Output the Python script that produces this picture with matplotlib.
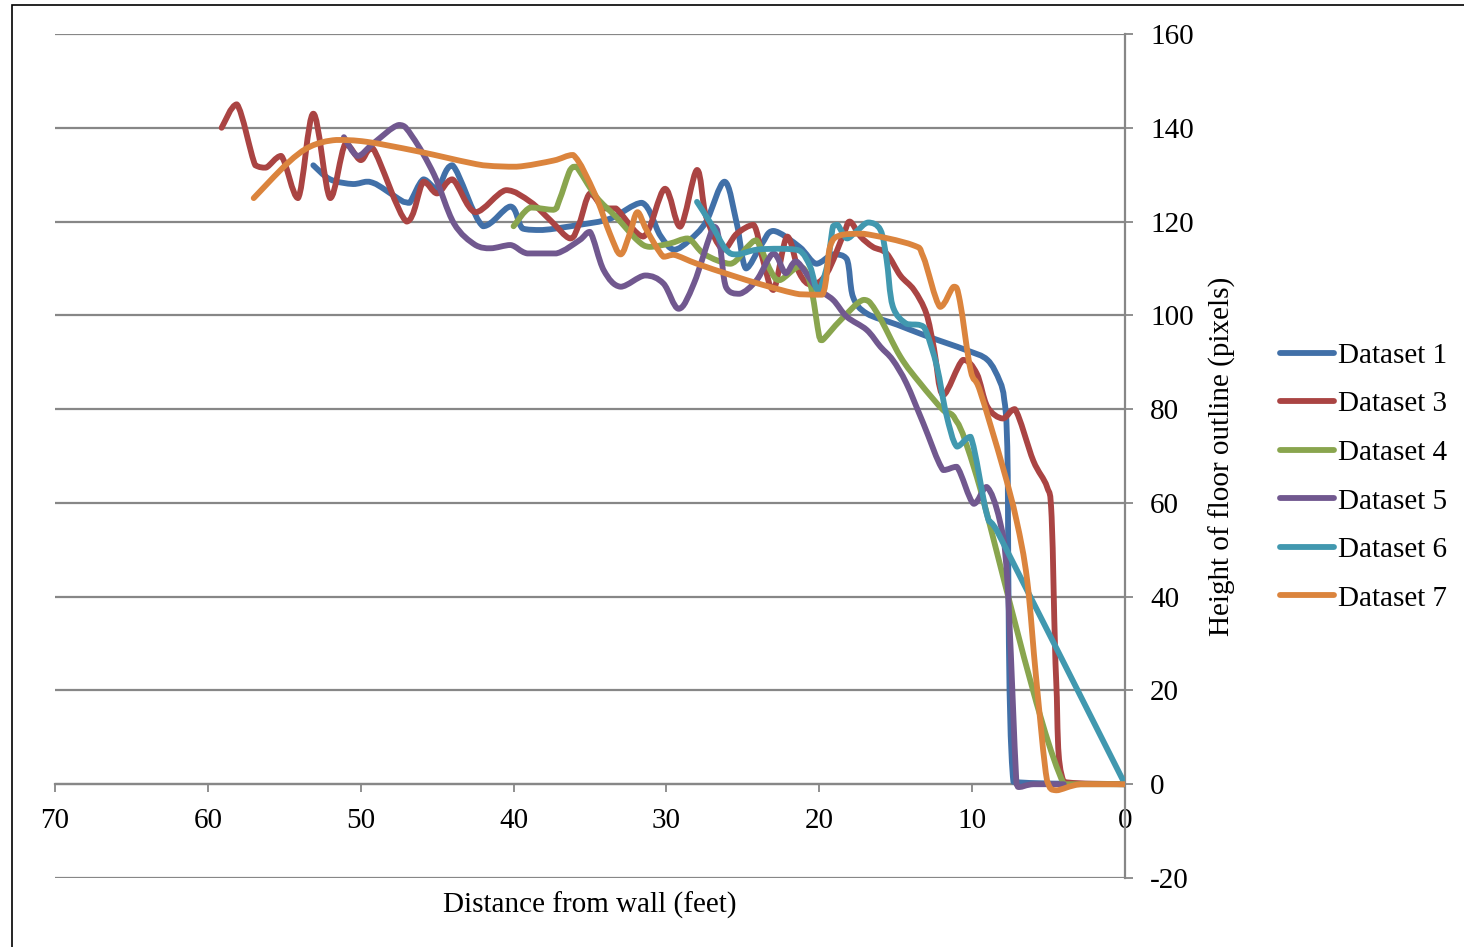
import matplotlib
matplotlib.use('Agg')
import matplotlib.pyplot as plt
import numpy as np
from matplotlib.lines import Line2D
from matplotlib.patches import PathPatch, Rectangle
from matplotlib.path import Path

plt.rcParams['font.family'] = ['Liberation Serif', 'DejaVu Serif']
plt.rcParams['axes.unicode_minus'] = False

# Values (distance from wall in feet, height in pixels)
ds1_x = [53.1, 52.0, 50.5, 49.6, 49.0, 47.2, 46.8, 45.9, 45.0, 44.0, 42.0, 40.2, 39.4, 38.1,
         35.7, 33.7, 31.6, 30.4, 29.5, 28.5, 27.4, 26.2, 25.4, 24.8, 23.8, 23.0, 21.3, 20.2,
         19.1, 18.2, 17.8, 16.9, 14.9, 13.0, 10.4, 9.0, 8.2, 7.9, 7.7, 7.3, 0.0]
ds1_y = [132, 129, 128, 128.5, 128, 124.2, 124, 129, 127, 132, 119, 123.2, 118.5, 118.2,
         119.3, 120.6, 124, 117, 114, 116, 120, 128.5, 119.6, 110, 115, 118, 114.6, 111,
         113, 112, 104, 100.4, 98, 95.6, 92.6, 90.5, 86, 82, 72, 0.5, 0]

ds3_x = [59.1, 58.1, 56.9, 56.2, 55.2, 54.1, 53.1, 52.0, 51.0, 50.0, 49.2, 47.0, 45.9, 45.0,
         44.0, 42.5, 40.5, 38.9, 37.6, 36.3, 35.7, 35.0, 34.1, 33.3, 31.5, 30.1, 29.1, 28.0,
         27.4, 26.3, 25.4, 24.3, 23.7, 23.0, 22.1, 21.3, 20.5, 19.5, 18.4, 18.0, 17.3, 16.5,
         15.6, 14.7, 13.8, 13.0, 12.5, 11.9, 10.6, 9.7, 9.0, 8.0, 7.2, 6.0, 5.1, 4.8, 4.5,
         4.0, 0.0]
ds3_y = [140, 145, 132, 131.5, 134, 125, 143, 125, 136.6, 133.1, 135.6, 120, 128.5, 126,
         129, 122, 126.7, 124.2, 120.3, 116.4, 119.6, 126, 122.8, 122.8, 116.8, 127, 118.9, 131,
         121, 114, 117.4, 119.3, 112, 105.4, 116.8, 109, 106.5, 109, 117.4, 120, 116.8, 114.6,
         113.2, 108.5, 105.4, 100.4, 93, 83, 90.5, 87.6, 80.5, 78, 80, 69, 63.4, 57, 22,
         0.5, 0]

ds4_x = [40.0, 38.9, 37.4, 37.0, 36.3, 35.9, 34.6, 33.3, 31.9, 31.1, 29.8, 28.6, 27.5, 25.8,
         24.7, 24.1, 23.2, 22.6, 21.3, 20.6, 20.0, 19.8, 18.6, 17.1, 16.2, 14.7, 13.4, 11.9,
         11.2, 9.7, 4.0, 0.0]
ds4_y = [119, 123, 122.5, 124.6, 131, 131.7, 125.3, 121, 116, 114.6, 115.3, 116.4, 113, 111,
         114.6, 116, 109.6, 107.5, 110.4, 106.8, 95.4, 94.7, 99, 103.3, 100.4, 91.2, 85.5, 79.8,
         78.4, 65.6, 0, 0]

ds5_x = [51.1, 50.2, 49.2, 47.5, 46.6, 45.2, 43.9, 42.5, 41.5, 40.2, 39.1, 37.2, 35.7, 35.0,
         34.1, 33.0, 31.4, 30.2, 29.2, 28.2, 26.9, 26.5, 26.1, 25.2, 24.1, 23.0, 22.2, 21.5,
         20.2, 19.1, 18.2, 16.9, 16.0, 15.2, 14.3, 13.2, 11.9, 11.0, 9.9, 9.05, 8.2, 7.7, 7.1,
         6.9, 6.0, 4.0]
ds5_y = [138, 134, 136.6, 140.6, 138, 130, 119.6, 115, 114.3, 115, 113.2, 113.2, 116, 117.8,
         109.6, 106.1, 108.5, 106.8, 101.4, 106.8, 118.9, 115, 106, 104.6, 107.5, 113.2, 109, 111.5,
         106, 103.3, 99.7, 96.9, 93.3, 90.5, 85.5, 77, 67, 67.7, 59.8, 63.4, 56.3, 43.5, 0,
         -0.6, 0, 0]

ds6_x = [28.0, 27.1, 26.1, 25.4, 24.1, 22.6, 21.3, 20.6, 20.1, 19.5, 19.1, 18.8, 18.2, 17.6,
         16.8, 16.0, 15.6, 15.2, 14.3, 13.4, 13.0, 12.3, 11.7, 11.0, 10.1, 9.05, 8.4, 0.0]
ds6_y = [124.2, 119.6, 114, 113, 114, 114.2, 113.8, 110.4, 105.4, 110.4, 119, 119.3, 116.4, 117.8,
         119.8, 118.2, 112, 102, 98.2, 97.9, 96.5, 89, 79, 72, 74.1, 57.7, 54.2, 0]

ds7_x = [57.0, 54.8, 53.3, 51.6, 49.6, 46.3, 42.0, 39.8, 37.4, 36.1, 34.7, 33.7, 33.0, 32.4,
         31.9, 31.3, 30.2, 29.5, 28.0, 25.8, 23.7, 21.3, 19.8, 19.3, 18.6, 17.1, 13.9, 13.2,
         12.1, 11.2, 10.8, 10.1, 9.5, 8.0, 7.1, 6.4, 5.8, 5.1, 4.5, 2.9, 0.0]
ds7_y = [125, 132.4, 136, 137.4, 137, 135, 132, 131.7, 133, 134.2, 126, 117.4, 113, 117.4,
         122, 118.2, 112.5, 112.9, 111, 108.6, 106.5, 104.5, 104.4, 114.6, 117.1, 117.4, 115, 112.5,
         101.8, 106.1, 103, 88.3, 84, 67.7, 56.3, 43.5, 22.2, 0.8, -1.3, 0, 0]

labels = ['Dataset 1', 'Dataset 3', 'Dataset 4', 'Dataset 5', 'Dataset 6', 'Dataset 7']
colors = ['#4170A8', '#AA4443', '#89A54E', '#71588F', '#4198AF', '#DB843D']
series = [(ds1_x, ds1_y), (ds3_x, ds3_y), (ds4_x, ds4_y),
          (ds5_x, ds5_y), (ds6_x, ds6_y), (ds7_x, ds7_y)]

grey = '#878787'


def smooth_path(xs, ys):
    # Excel-like smoothed line: Catmull-Rom segments as cubic Bezier curves,
    # control points kept inside each segment's box to avoid overshoot
    pts = np.column_stack([xs, ys]).astype(float)
    n = len(pts)
    verts = [pts[0]]
    codes = [Path.MOVETO]
    for i in range(n - 1):
        p0 = pts[max(i - 1, 0)]
        p1 = pts[i]
        p2 = pts[i + 1]
        p3 = pts[min(i + 2, n - 1)]
        c1 = p1 + (p2 - p0) / 6.0
        c2 = p2 - (p3 - p1) / 6.0
        lo = np.minimum(p1, p2)
        hi = np.maximum(p1, p2)
        c1 = np.clip(c1, lo, hi)
        c2 = np.clip(c2, lo, hi)
        verts += [c1, c2, p2]
        codes += [Path.CURVE4] * 3
    return Path(verts, codes)


fig = plt.figure(figsize=(14.64, 9.47), dpi=100)
ax = fig.add_axes([55 / 1464, 1 - 878 / 947, 1070 / 1464, 844 / 947])

for (xs, ys), c in zip(series, colors):
    patch = PathPatch(smooth_path(xs, ys), facecolor='none', edgecolor=c, lw=4.2,
                      capstyle='round', joinstyle='round', zorder=3)
    ax.add_patch(patch)

ax.set_xlim(70, 0)
ax.set_ylim(-20, 160)
ax.set_xticks(np.arange(0, 71, 10))
ax.set_yticks(np.arange(-20, 161, 20))

ax.yaxis.tick_right()
ax.yaxis.grid(True, color=grey, lw=1.6, zorder=1)
ax.set_axisbelow(True)

for side in ['left', 'top']:
    ax.spines[side].set_visible(False)
ax.spines['bottom'].set_position(('data', 0))
ax.spines['bottom'].set_color(grey)
ax.spines['bottom'].set_linewidth(1.6)
ax.spines['right'].set_color(grey)
ax.spines['right'].set_linewidth(1.6)

ax.tick_params(axis='x', direction='out', length=6, width=1.3, color=grey,
               labelsize=21, pad=11)
ax.tick_params(axis='y', direction='out', length=6, width=1.3, color=grey,
               labelsize=21, pad=12, right=True, left=False)

ax.text(0.5, -0.032, 'Distance from wall (feet)', transform=ax.transAxes,
        ha='center', va='center', fontsize=21)
ax.text(1.0907, 0.5, 'Height of floor outline (pixels)', transform=ax.transAxes,
        ha='center', va='center', rotation=90, fontsize=21)

handles = [Line2D([], [], color=c, lw=4.2, solid_capstyle='round') for c in colors]
fig.legend(handles, labels, loc='center left', bbox_to_anchor=(1280 / 1464, 1 - 477 / 947),
           frameon=False, fontsize=21, handlelength=1.85, handletextpad=0.15,
           labelspacing=0.76, borderpad=0, borderaxespad=0)

# thin black border around the chart area
fig.add_artist(Rectangle((12 / 1464, -0.05), 1.1, 0.05 + 1 - 5 / 947,
                         transform=fig.transFigure, fill=False, edgecolor='black',
                         lw=1.2, clip_on=False))

fig.savefig('out.png', dpi=100)
